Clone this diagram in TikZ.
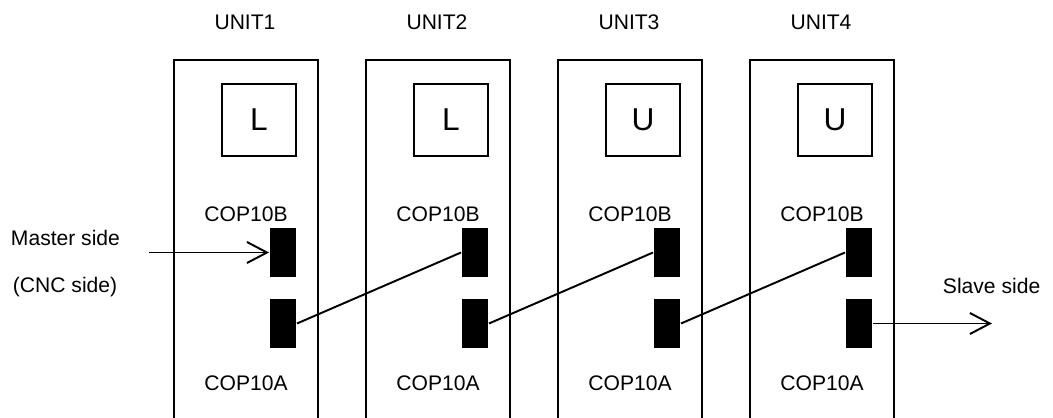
\documentclass[tikz,border=0pt]{standalone}
\usepackage{fontspec}
\setmainfont{Liberation Sans}
\usetikzlibrary{arrows.meta}
\definecolor{cable}{RGB}{0,0,0}

\begin{document}
\begin{tikzpicture}[x=0.02cm, y=-0.02cm, line width=1.1pt,
    txt/.style={font=\fontsize{12}{14}\selectfont, inner sep=0pt},
    lbox/.style={draw, minimum width=1.48cm, minimum height=1.44cm, inner sep=0pt, font=\fontsize{18}{20}\selectfont},
    conn/.style={fill=black, minimum width=0.52cm, minimum height=0.98cm, inner sep=0pt},
    barb/.style={-{Straight Barb[length=0.4cm, width=0.42cm]}}]
                \useasboundingbox (0,0) rectangle (1053,418);
                % units with their ports
                \foreach \i/\c in {1/L,2/L,3/U,4/U} {
                    \draw (174+192*\i-192,418) -- (174+192*\i-192,60) -- (318+192*\i-192,60) -- (318+192*\i-192,418);
                    \node[txt] (name\i) at (245+192*\i-192,22) {UNIT\i};
                    \node[lbox] (sw\i) at (259+192*\i-192,120) {\c};
                    \node[txt] (lb\i) at (246+192*\i-192,214) {COP10B};
                    \node[txt] (la\i) at (246+192*\i-192,383) {COP10A};
                    \node[conn] (b\i) at (283+192*\i-192,252.5) {};
                    \node[conn] (a\i) at (283+192*\i-192,323.5) {};
                }
                % cables between the units
                \foreach \i/\j in {1/2,2/3,3/4}
                    \draw[cable] (a\i.east) -- (b\j.west);
                \node[txt, anchor=west] (master) at (10,238) {Master side};
                \node[txt, anchor=west] (cnc) at (12,287) {(CNC side)};
                \node[txt, anchor=west] (slave) at (942,286) {Slave side};
                \coordinate (in) at (149,252.5);
                \coordinate (out) at (992,323.5);
                \draw[barb] (in) -- (b1.west);
                \draw[barb] (a4.east) -- (out);
            \end{tikzpicture}
\end{document}
